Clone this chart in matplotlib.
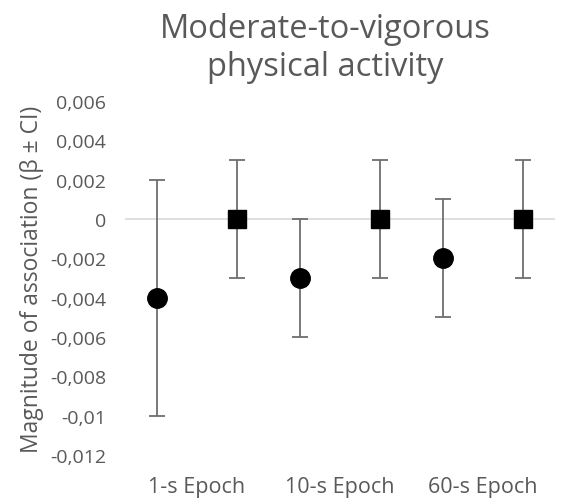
import matplotlib.pyplot as plt
import numpy as np

# data
epochs = ['1-s Epoch', '10-s Epoch', '60-s Epoch']
circle_beta = [-0.004, -0.003, -0.002]
circle_lo = [-0.010, -0.006, -0.005]
circle_hi = [0.002, 0.000, 0.001]
square_beta = [0.0, 0.0, 0.0]
square_lo = [-0.003, -0.003, -0.003]
square_hi = [0.003, 0.003, 0.003]
yticks = [0.006, 0.004, 0.002, 0, -0.002, -0.004, -0.006, -0.008, -0.01, -0.012]

plt.rcParams['font.family'] = ['Open Sans', 'DejaVu Sans']
grey = '#595959'

fig = plt.figure(figsize=(5.66, 5.02), dpi=100)
ax = fig.add_axes([0.2217, 0.0916, 0.758, 0.7052])

x = np.arange(len(epochs))
off = 0.28

def err(beta, lo, hi):
    b = np.array(beta)
    return [b - np.array(lo), np.array(hi) - b]

ax.axhline(0, color='#d9d9d9', lw=1.2, zorder=0)
ax.errorbar(x - off, circle_beta, yerr=err(circle_beta, circle_lo, circle_hi),
            fmt='o', color='black', ms=14, ecolor='#6e6e6e', elinewidth=1.3,
            capsize=6, capthick=1.3, zorder=3)
ax.errorbar(x + off, square_beta, yerr=err(square_beta, square_lo, square_hi),
            fmt='s', color='black', ms=13.5, ecolor='#6e6e6e', elinewidth=1.3,
            capsize=6, capthick=1.3, zorder=3)

ax.set_xlim(-0.5, 2.5)
ax.set_ylim(-0.012, 0.006)
ax.set_yticks(yticks)
ax.set_yticklabels([('%g' % v).replace('.', ',') for v in yticks], color=grey, fontsize=14)
ax.set_xticks(x)
ax.set_xticklabels(epochs, color=grey, fontsize=15.5)
ax.tick_params(length=0)
ax.tick_params(axis='y', pad=14)
ax.tick_params(axis='x', pad=15)
for s in ax.spines.values():
    s.set_visible(False)

ax.set_ylabel('Magnitude of association (β ± CI)', color=grey, fontsize=16.5, labelpad=4)
fig.text(0.575, 0.903, 'Moderate-to-vigorous\nphysical activity', ha='center', va='center',
         color=grey, fontsize=23.5, linespacing=1.2)

fig.savefig('out.png', dpi=100)
